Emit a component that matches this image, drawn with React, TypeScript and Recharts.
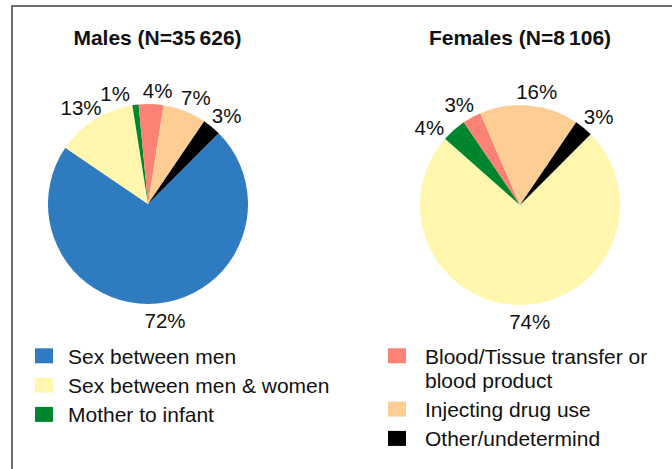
import { Cell, Pie, PieChart } from "recharts";

const categories = [
  "Sex between men",
  "Sex between men & women",
  "Mother to infant",
  "Blood/Tissue transfer or blood product",
  "Injecting drug use",
  "Other/undetermind",
];
const legendLines = [
  ["Sex between men"],
  ["Sex between men & women"],
  ["Mother to infant"],
  ["Blood/Tissue transfer or", "blood product"],
  ["Injecting drug use"],
  ["Other/undetermind"],
];
const colors = ["#2f7bbf", "#fff7ae", "#00852f", "#fb8275", "#fecd94", "#000000"];
const maleValues = [72, 13, 1, 4, 7, 3];
const femaleValues = [0, 74, 4, 3, 16, 3];
const titles = ["Males (N=35\u2009626)", "Females (N=8\u2009106)"];

const FONT = "'Liberation Sans', Arial, Helvetica, sans-serif";
const RAD = Math.PI / 180;

const toData = (values: number[]) =>
  categories
    .map((name, i) => ({ name, value: values[i], fill: colors[i] }))
    .filter((d) => d.value > 0);

const maleData = toData(maleValues);
const femaleData = toData(femaleValues);

// label outside the slice; a label whose next slice is also tiny gets nudged back
const makeLabel = (data: { value: number }[]) => {
  const total = data.reduce((s, d) => s + d.value, 0);
  return (props: any) => {
    const { cx, cy, midAngle, outerRadius, value, index } = props;
    const next = data[index + 1];
    let angle = midAngle;
    if (next && ((value + next.value) / 2 / total) * 360 < 15) angle += 6.5;
    const up = Math.sin(angle * RAD);
    const r = outerRadius + 15.5 - 2 * up;
    const x = cx + r * Math.cos(angle * RAD);
    const y = cy - r * up;
    const dx = x >= cx ? 6 : -6;
    return (
      <text
        x={x + dx}
        y={y}
        dy={7}
        textAnchor="middle"
        fontSize={20.5}
        fontFamily={FONT}
        fill="#111"
      >
        {value}%
      </text>
    );
  };
};

function LegendBlock() {
  const items: JSX.Element[] = [];
  const cols = [
    { idx: [0, 1, 2], sx: 35, tx: 68 },
    { idx: [3, 4, 5], sx: 388, tx: 425 },
  ];
  cols.forEach((col) => {
    let base = 363.8;
    col.idx.forEach((i) => {
      items.push(
        <g key={categories[i]}>
          <rect x={col.sx} y={base - 15.5} width={18} height={15} fill={colors[i]} />
          <text x={col.tx} y={base} fontSize={21} fontFamily={FONT} fill="#111">
            {legendLines[i].map((line, k) => (
              <tspan key={k} x={col.tx} dy={k === 0 ? 0 : 24}>
                {line}
              </tspan>
            ))}
          </text>
        </g>
      );
      base += 29.3 + (legendLines[i].length - 1) * 24;
    });
  });
  return <g>{items}</g>;
}

export default function App() {
  return (
    <div style={{ position: "absolute", left: 0, top: 0 }}>
      <PieChart width={672} height={469} margin={{ top: 0, right: 0, bottom: 0, left: 0 }}>
        <rect x={12} y={6} width={700} height={500} fill="none" stroke="#222" strokeWidth={1.3} />
        <text x={157.5} y={45} textAnchor="middle" fontSize={21} fontWeight="bold" fontFamily={FONT} fill="#111">
          {titles[0]}
        </text>
        <text x={520} y={45} textAnchor="middle" fontSize={21} fontWeight="bold" fontFamily={FONT} fill="#111">
          {titles[1]}
        </text>
        <Pie
          data={maleData}
          dataKey="value"
          nameKey="name"
          cx={148}
          cy={204}
          outerRadius={100}
          startAngle={45}
          endAngle={-315}
          stroke="none"
          label={makeLabel(maleData)}
          labelLine={false}
          isAnimationActive={false}
        >
          {maleData.map((d) => (
            <Cell key={d.name} fill={d.fill} />
          ))}
        </Pie>
        <Pie
          data={femaleData}
          dataKey="value"
          nameKey="name"
          cx={520}
          cy={205}
          outerRadius={100}
          startAngle={45}
          endAngle={-315}
          stroke="none"
          label={makeLabel(femaleData)}
          labelLine={false}
          isAnimationActive={false}
        >
          {femaleData.map((d) => (
            <Cell key={d.name} fill={d.fill} />
          ))}
        </Pie>
        <LegendBlock />
      </PieChart>
    </div>
  );
}
